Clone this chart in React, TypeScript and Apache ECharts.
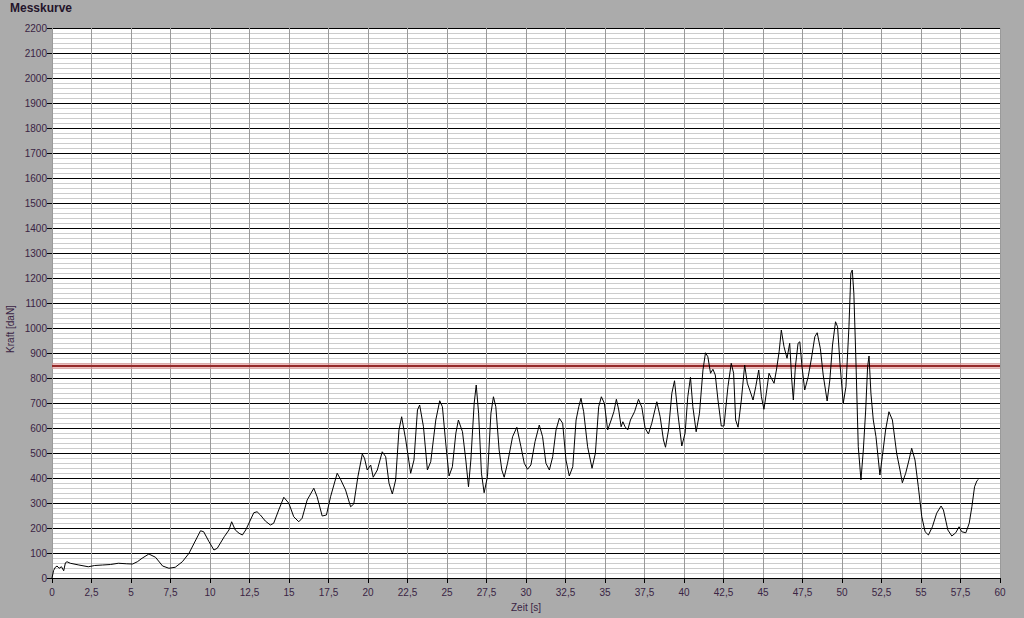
import React, { useEffect, useRef } from "react";
import * as echarts from "echarts";

const title = "Messkurve";
const xName = "Zeit [s]";
const yName = "Kraft [daN]";
const limitValue = 850;

const zeit = [
  0, 0.1, 0.21, 0.32, 0.45, 0.6, 0.74, 0.85, 0.95, 1.16, 1.7, 2.3, 2.7, 3.2, 3.7, 4.2, 4.7, 5.1, 5.4, 5.7,
  6.13, 6.55, 7.0, 7.4, 7.8, 8.25, 8.67, 9.1, 9.4, 9.6, 9.94, 10.25, 10.46, 10.9, 11.2, 11.37, 11.6, 11.84, 12.05, 12.26,
  12.47, 12.77, 12.98, 13.19, 13.5, 13.82, 14.03, 14.35, 14.67, 14.99, 15.3, 15.62, 15.83, 16.15, 16.57, 16.78, 17.1, 17.37, 17.63, 18.05,
  18.26, 18.58, 18.9, 19.1, 19.36, 19.64, 19.78, 19.95, 20.17, 20.33, 20.59, 20.9, 21.12, 21.33, 21.54, 21.75, 21.96, 22.13, 22.39, 22.7,
  22.91, 23.13, 23.27, 23.51, 23.76, 23.97, 24.29, 24.54, 24.71, 24.92, 25.13, 25.34, 25.56, 25.72, 25.98, 26.19, 26.36, 26.51, 26.72, 26.85,
  27.0, 27.18, 27.35, 27.56, 27.78, 27.94, 28.09, 28.3, 28.47, 28.62, 28.83, 29.15, 29.42, 29.68, 29.89, 30.1, 30.31, 30.57, 30.84, 31.05,
  31.26, 31.48, 31.69, 31.9, 32.11, 32.32, 32.53, 32.74, 32.96, 33.17, 33.34, 33.48, 33.65, 33.9, 34.18, 34.39, 34.6, 34.77, 34.96, 35.17,
  35.39, 35.56, 35.72, 35.87, 36.02, 36.13, 36.27, 36.44, 36.61, 36.87, 37.12, 37.33, 37.54, 37.75, 37.96, 38.28, 38.49, 38.7, 38.83, 39.02,
  39.23, 39.4, 39.61, 39.86, 40.07, 40.24, 40.41, 40.56, 40.77, 40.98, 41.2, 41.36, 41.51, 41.68, 41.83, 41.98, 42.15, 42.36, 42.53, 42.78,
  42.99, 43.14, 43.27, 43.42, 43.63, 43.84, 44.01, 44.16, 44.37, 44.54, 44.73, 44.9, 45.06, 45.21, 45.38, 45.53, 45.7, 45.85, 46.02, 46.16,
  46.33, 46.52, 46.69, 46.82, 46.92, 47.05, 47.22, 47.33, 47.47, 47.64, 47.86, 48.07, 48.28, 48.43, 48.63, 48.81, 49.06, 49.23, 49.4, 49.59,
  49.72, 49.87, 50.08, 50.25, 50.44, 50.56, 50.65, 50.75, 50.88, 51.03, 51.2, 51.35, 51.5, 51.62, 51.71, 51.83, 51.98, 52.15, 52.4, 52.55,
  52.76, 52.97, 53.19, 53.46, 53.67, 53.82, 54.03, 54.24, 54.41, 54.62, 54.83, 55.05, 55.26, 55.47, 55.72, 55.99, 56.27, 56.42, 56.7, 56.95,
  57.2, 57.41, 57.58, 57.84, 58.05, 58.22, 58.39, 58.54, 58.64,
];

const kraft = [
  0, 30, 43, 48, 39, 45, 29, 61, 65, 59, 52, 45, 50, 52, 54, 59, 57, 56, 65, 79,
  96, 83, 48, 39, 43, 65, 99, 152, 189, 185, 145, 112, 119, 165, 192, 225, 192, 179, 172, 192,
  220, 261, 265, 252, 228, 212, 219, 272, 323, 299, 245, 225, 239, 312, 359, 325, 248, 252, 325, 419,
  395, 352, 285, 296, 405, 496, 479, 432, 452, 403, 432, 505, 485, 379, 336, 392, 592, 645, 552, 419,
  472, 672, 692, 605, 432, 465, 632, 709, 685, 539, 408, 445, 579, 632, 585, 472, 365, 472, 699, 772,
  659, 419, 341, 405, 659, 725, 685, 512, 432, 403, 459, 565, 603, 525, 459, 435, 452, 545, 612, 565,
  459, 432, 485, 592, 639, 619, 472, 408, 445, 632, 685, 719, 665, 525, 439, 499, 685, 725, 699, 592,
  632, 665, 715, 672, 605, 625, 605, 592, 632, 665, 715, 683, 599, 576, 619, 705, 645, 552, 523, 592,
  739, 789, 659, 528, 579, 725, 803, 685, 585, 659, 832, 901, 885, 819, 835, 812, 712, 608, 608, 765,
  859, 819, 632, 603, 712, 852, 779, 752, 712, 765, 832, 725, 675, 739, 819, 799, 779, 832, 905, 992,
  925, 879, 939, 792, 712, 845, 939, 945, 845, 752, 805, 880, 965, 981, 918, 812, 708, 792, 932, 1025,
  1005, 859, 699, 765, 1005, 1219, 1232, 1139, 872, 525, 392, 512, 672, 845, 888, 739, 632, 565, 412, 485,
  592, 665, 632, 499, 432, 381, 419, 472, 519, 472, 365, 245, 185, 172, 205, 259, 288, 272, 192, 168,
  181, 205, 185, 181, 219, 285, 365, 389, 395,
];

const FONT = "Liberation Sans";
const LABEL_COLOR = "#3a2444";

export default function App() {
  const ref = useRef<HTMLDivElement>(null);

  useEffect(() => {
    document.body.style.margin = "0";
    if (!ref.current) return;
    const chart = echarts.init(ref.current, undefined, { renderer: "svg" });
    const points = zeit.map((t, i) => [t, kraft[i]]);
    chart.setOption({
      animation: false,
      backgroundColor: "#ababab",
      graphic: [
        {
          type: "text",
          left: 10,
          top: 2,
          style: { text: title, font: `bold 12px "${FONT}"`, fill: "#24142a" },
        },
        {
          type: "text",
          x: 10,
          y: 329,
          rotation: Math.PI / 2,
          style: {
            text: yName,
            font: `10px "${FONT}"`,
            fill: LABEL_COLOR,
            align: "center",
            verticalAlign: "middle",
          },
        },
        {
          type: "text",
          x: 526,
          y: 607,
          style: {
            text: xName,
            font: `10px "${FONT}"`,
            fill: LABEL_COLOR,
            align: "center",
            verticalAlign: "middle",
          },
        },
      ],
      grid: {
        left: 52,
        right: 24,
        top: 28,
        bottom: 40,
        show: true,
        backgroundColor: "#ffffff",
        borderWidth: 0,
      },
      xAxis: {
        type: "value",
        min: 0,
        max: 60,
        interval: 2.5,
        axisLine: { show: false },
        axisTick: { show: true, length: 5, lineStyle: { color: "#000" } },
        axisLabel: {
          color: LABEL_COLOR,
          fontFamily: FONT,
          fontSize: 10,
          margin: 9,
          formatter: (v: number) => String(v).replace(".", ","),
        },
        splitLine: { show: true, lineStyle: { color: "#9a9a9a", width: 1 } },
      },
      yAxis: {
        type: "value",
        min: 0,
        max: 2200,
        interval: 100,
        axisLine: { show: false },
        axisTick: { show: true, length: 5, lineStyle: { color: "#000" } },
        axisLabel: {
          color: LABEL_COLOR,
          fontFamily: FONT,
          fontSize: 10,
          margin: 5,
          formatter: (v: number) => String(v),
        },
        splitLine: { show: true, lineStyle: { color: "#000", width: 1 } },
        minorTick: { show: false, splitNumber: 5 },
        minorSplitLine: { show: true, lineStyle: { color: "#cccccc", width: 1 } },
      },
      series: [
        {
          type: "line",
          data: [],
          silent: true,
          markLine: {
            silent: true,
            symbol: "none",
            label: { show: false },
            lineStyle: { color: "rgba(225,150,150,0.6)", width: 6, type: "solid" },
            data: [{ yAxis: limitValue }],
          },
        },
        {
          type: "line",
          data: [],
          silent: true,
          markLine: {
            silent: true,
            symbol: "none",
            label: { show: false },
            lineStyle: { color: "#952a2a", width: 2, type: "solid" },
            data: [{ yAxis: limitValue }],
          },
        },
        {
          type: "line",
          data: points,
          showSymbol: false,
          symbol: "none",
          lineStyle: { color: "#000", width: 1 },
          z: 5,
        },
      ],
    });
    return () => chart.dispose();
  }, []);

  return <div ref={ref} style={{ width: 1024, height: 618 }} />;
}
